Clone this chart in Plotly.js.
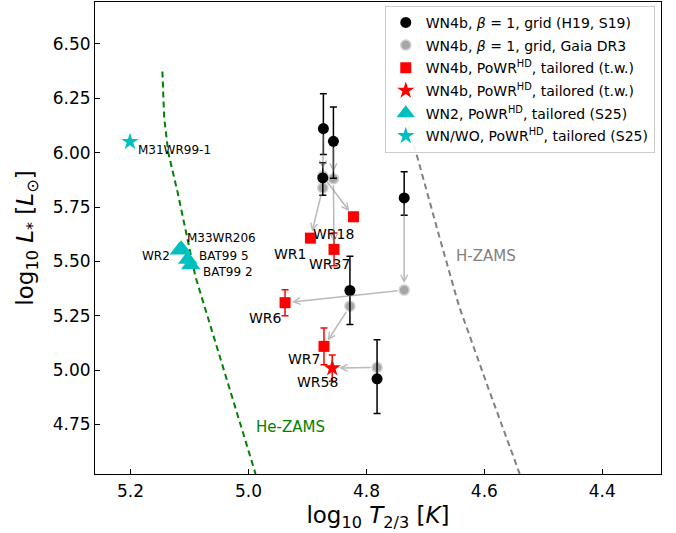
<!DOCTYPE html>
<html>
<head>
<meta charset="utf-8">
<script src="https://cdn.plot.ly/plotly-3.0.1.min.js"></script>
<style>html,body{margin:0;padding:0;background:#fff;}#chart{width:676px;height:533px;}</style>
</head>
<body>
<div id="chart"></div>
<script>
// ---------------- DATA ----------------
const starNames = ['WR1', 'WR18', 'WR37', 'WR6', 'WR7', 'WR58'];

// WN4b, beta=1, grid (H19, S19)
const gridT = [4.874, 4.873, 4.856, 4.736, 4.828, 4.782];
const gridL = [5.884, 6.111, 6.052, 5.792, 5.366, 4.960];
const gridErrPlus  = [0.07, 0.16, 0.158, 0.12, 0.158, 0.18];
const gridErrMinus = [0.08, 0.12, 0.17, 0.08, 0.156, 0.16];

// WN4b, beta=1, grid, Gaia DR3
const gaiaT = [4.874, 4.874, 4.856, 4.736, 4.828, 4.782];
const gaiaL = [5.838, 5.893, 5.880, 5.368, 5.294, 5.012];

// WN4b, PoWR-HD tailored (this work)
const tailT = [4.895, 4.822, 4.855, 4.938, 4.872, 4.858];
const tailL = [5.607, 5.705, 5.555, 5.310, 5.109, 5.009];
const tailErr = [0.02, 0.02, 0.075, 0.06, 0.085, 0.06];
const tailIsStar = [false, false, false, false, false, true];

// WN2, PoWR-HD tailored (S25)
const wn2Names = ['WR2', 'M33WR206', 'BAT99 5', 'BAT99 2'];
const wn2T = [5.117, 5.114, 5.103, 5.098];
const wn2L = [5.551, 5.558, 5.509, 5.483];

// WN/WO, PoWR-HD tailored (S25)
const wnwoNames = ['M31WR99-1'];
const wnwoT = [5.201];
const wnwoL = [6.050];

// ZAMS lines
const heZamsT = [5.146, 5.143, 5.136, 5.120, 5.090, 5.040, 4.988];
const heZamsL = [6.373, 6.161, 6.000, 5.815, 5.430, 4.987, 4.522];
const hZamsT = [4.748, 4.713, 4.675, 4.643, 4.594, 4.544, 4.540];
const hZamsL = [6.300, 5.973, 5.600, 5.294, 4.922, 4.557, 4.522];

const xTicks = [5.2, 5.0, 4.8, 4.6, 4.4];
const xTickText = ['5.2', '5.0', '4.8', '4.6', '4.4'];
const yTicks = [4.75, 5.00, 5.25, 5.50, 5.75, 6.00, 6.25, 6.50];
const yTickText = ['4.75', '5.00', '5.25', '5.50', '5.75', '6.00', '6.25', '6.50'];

// ---------------- STYLE / LAYOUT HELPERS ----------------
const FONT = 'DejaVu Sans, sans-serif';
const RED = '#ff0000', CYAN = '#00bfbf', GREEN = '#008000', GREY = '#808080';

// label offsets (pixels) for star names
const tailLabelOff = [[-20, -16], [-20, -17], [-5, -15], [-20, -15], [-20, -13], [-15, -14]];
const wn2LabelOff = [[-8, -6, 'right'], [4, 11, 'left'], [9, 3, 'left'], [10, -7, 'left']];
const wnwoLabelOff = [[6, -8, 'left']];

const sqIdx = tailIsStar.map((s, i) => s ? -1 : i).filter(i => i >= 0);
const stIdx = tailIsStar.map((s, i) => s ? i : -1).filter(i => i >= 0);
const pick = (arr, idx) => idx.map(i => arr[i]);

const traces = [
  {x: heZamsT, y: heZamsL, mode: 'lines', line: {color: GREEN, dash: '6px,4px', width: 2}, showlegend: false, hoverinfo: 'skip'},
  {x: hZamsT, y: hZamsL, mode: 'lines', line: {color: GREY, dash: '6px,4px', width: 2}, showlegend: false, hoverinfo: 'skip'},
  {x: gaiaT, y: gaiaL, mode: 'markers', name: 'WN4b, <i>β</i> = 1, grid, Gaia DR3', legendgroup: 'g2', legendrank: 2,
   marker: {color: '#a6a6a6', size: 10, line: {color: '#cfcfcf', width: 1.5}}},
  {x: gridT, y: gridL, mode: 'markers', name: 'WN4b, <i>β</i> = 1, grid (H19, S19)', legendgroup: 'g1', legendrank: 1,
   marker: {color: 'black', size: 11},
   error_y: {type: 'data', symmetric: false, array: gridErrPlus, arrayminus: gridErrMinus, color: 'black', thickness: 1.5, width: 3.5}},
  {x: pick(tailT, sqIdx), y: pick(tailL, sqIdx), mode: 'markers', name: 'WN4b, PoWR<sup>HD</sup>, tailored (t.w.)', legendgroup: 'g3', legendrank: 3,
   marker: {color: RED, size: 11, symbol: 'square'},
   error_y: {type: 'data', array: pick(tailErr, sqIdx), color: RED, thickness: 1.5, width: 3.5}},
  {x: pick(tailT, stIdx), y: pick(tailL, stIdx), mode: 'markers', name: 'WN4b, PoWR<sup>HD</sup>, tailored (t.w.)', legendgroup: 'g4', legendrank: 4,
   marker: {color: RED, size: 13, symbol: 'star'},
   error_y: {type: 'data', array: pick(tailErr, stIdx), color: RED, thickness: 1.5, width: 3.5}},
  {x: wn2T, y: wn2L, mode: 'markers', name: 'WN2, PoWR<sup>HD</sup>, tailored (S25)', legendgroup: 'g5', legendrank: 5,
   marker: {color: CYAN, size: 17, symbol: 'triangle-up'}},
  {x: wnwoT, y: wnwoL, mode: 'markers', name: 'WN/WO, PoWR<sup>HD</sup>, tailored (S25)', legendgroup: 'g6', legendrank: 6,
   marker: {color: CYAN, size: 13, symbol: 'star'}}
];

const annotations = [];
const arrowStyle = {xref: 'x', yref: 'y', axref: 'x', ayref: 'y', showarrow: true, arrowhead: 5,
  arrowsize: 0.9, arrowwidth: 1.5, arrowcolor: 'rgba(128,128,128,0.55)', standoff: 7, startstandoff: 5, text: ''};
for (let i = 0; i < starNames.length; i++) {
  // grid -> gaia
  annotations.push(Object.assign({}, arrowStyle, {ax: gridT[i], ay: gridL[i], x: gaiaT[i], y: gaiaL[i]}));
  // gaia -> tailored
  annotations.push(Object.assign({}, arrowStyle, {ax: gaiaT[i], ay: gaiaL[i], x: tailT[i], y: tailL[i]}));
  // name label
  annotations.push({x: tailT[i], y: tailL[i], xref: 'x', yref: 'y', text: starNames[i], showarrow: false,
    xshift: tailLabelOff[i][0], yshift: tailLabelOff[i][1], font: {family: FONT, size: 14, color: 'black'}});
}
wn2Names.forEach((n, i) => annotations.push({x: wn2T[i], y: wn2L[i], xref: 'x', yref: 'y', text: n, showarrow: false,
  xanchor: wn2LabelOff[i][2], xshift: wn2LabelOff[i][0], yshift: wn2LabelOff[i][1], font: {family: FONT, size: 12, color: 'black'}}));
wnwoNames.forEach((n, i) => annotations.push({x: wnwoT[i], y: wnwoL[i], xref: 'x', yref: 'y', text: n, showarrow: false,
  xanchor: wnwoLabelOff[i][2], xshift: wnwoLabelOff[i][0], yshift: wnwoLabelOff[i][1], font: {family: FONT, size: 12, color: 'black'}}));
annotations.push({x: 4.928, y: 4.737, xref: 'x', yref: 'y', text: 'He-ZAMS', showarrow: false, font: {family: FONT, size: 15, color: GREEN}});
annotations.push({x: 4.597, y: 5.527, xref: 'x', yref: 'y', text: 'H-ZAMS', showarrow: false, font: {family: FONT, size: 15, color: GREY}});

const layout = {
  width: 676, height: 533,
  margin: {l: 95, r: 15, t: 2, b: 59},
  paper_bgcolor: 'white', plot_bgcolor: 'white',
  font: {family: FONT, color: 'black'},
  showlegend: true,
  xaxis: {
    range: [5.2603, 4.3005], tickvals: xTicks, ticktext: xTickText,
    ticks: 'inside', ticklen: 5, tickwidth: 1, tickcolor: 'black', ticklabelstandoff: 2,
    showline: true, mirror: true, linecolor: 'black', linewidth: 1,
    showgrid: false, zeroline: false, tickfont: {size: 17},
    title: {text: 'log<sub>10</sub> <i>T</i><sub>2/3</sub> [<i>K</i>]', font: {size: 23}, standoff: 6}
  },
  yaxis: {
    range: [4.522, 6.693], tickvals: yTicks, ticktext: yTickText,
    ticks: 'inside', ticklen: 5, tickwidth: 1, tickcolor: 'black',
    showline: true, mirror: true, linecolor: 'black', linewidth: 1,
    showgrid: false, zeroline: false, tickfont: {size: 17},
    title: {text: 'log<sub>10</sub> <i>L</i><sub>*</sub> [<i>L</i><sub>⊙</sub>]', font: {size: 23}, standoff: 12}
  },
  legend: {x: 0.989, xanchor: 'right', y: 0.992, yanchor: 'top', bgcolor: 'rgba(255,255,255,0.9)',
    bordercolor: '#cccccc', borderwidth: 1, font: {size: 14, family: FONT}, tracegroupgap: 1.5},
  annotations: annotations
};

Plotly.newPlot('chart', traces, layout, {staticPlot: true, displayModeBar: false});
</script>
</body>
</html>
